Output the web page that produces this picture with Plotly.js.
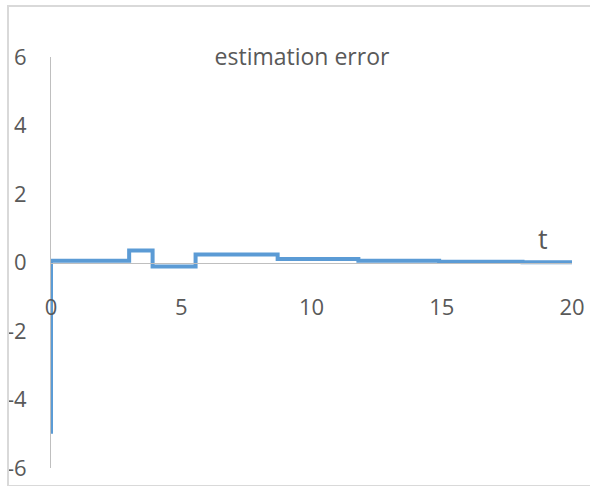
<!DOCTYPE html>
<html>
<head>
<meta charset="utf-8">
<script src="https://cdn.plot.ly/plotly-3.0.1.min.js"></script>
<style>
  html, body { margin: 0; padding: 0; background: #fff; }
  #wrap { position: absolute; left: 0; top: 0; width: 590px; height: 486px; }
  #frame { position: absolute; left: 7px; top: 5px; width: 600px; height: 478px;
           border-top: 2px solid #d9d9d9; border-left: 2px solid #d9d9d9; border-bottom: 2px solid #d9d9d9; box-sizing: content-box; pointer-events: none; }
  #chart { position: absolute; left: 0; top: 0; width: 590px; height: 486px; }
</style>
</head>
<body>
<div id="wrap">
  <div id="chart"></div>
  <div id="frame"></div>
</div>
<script>
// Step times and estimation error levels
const tValues = [0, 0, 3, 3.9, 5.55, 8.7, 11.8, 14.9, 18.1, 20];
const errorValues = [-5, 0.05, 0.35, -0.12, 0.23, 0.1, 0.05, 0.02, 0.01, 0.01];
const xTicks = [0, 5, 10, 15, 20];
const yTicks = [-6, -4, -2, 0, 2, 4, 6];

const FONT = '"Open Sans", sans-serif';
const GREY = '#595959';

const trace = {
  x: tValues,
  y: errorValues,
  type: 'scatter',
  mode: 'lines',
  line: { shape: 'hv', color: '#5b9bd5', width: 4 },
  hoverinfo: 'skip'
};

const layout = {
  width: 590,
  height: 486,
  margin: { l: 51, r: 18, t: 57, b: 18 },
  paper_bgcolor: 'rgba(0,0,0,0)',
  plot_bgcolor: 'rgba(0,0,0,0)',
  showlegend: false,
  title: {
    text: 'estimation error',
    font: { family: FONT, size: 23, color: GREY },
    x: 302 / 590, xanchor: 'center',
    y: 1 - 57 / 486, yanchor: 'middle'
  },
  xaxis: {
    range: [0, 20],
    tickvals: xTicks,
    ticktext: xTicks.map(String),
    showgrid: false,
    zeroline: false,
    showline: true,
    linecolor: '#bfbfbf',
    linewidth: 1,
    ticks: '',
    anchor: 'free',
    position: 0.5,
    ticklabelstandoff: 25,
    tickfont: { family: FONT, size: 22, color: GREY },
    fixedrange: true
  },
  yaxis: {
    range: [-6, 6],
    tickvals: yTicks,
    ticktext: yTicks.map(String),
    showgrid: false,
    zeroline: false,
    showline: true,
    linecolor: '#bfbfbf',
    linewidth: 1,
    ticks: '',
    ticklabelstandoff: 19,
    tickfont: { family: FONT, size: 22, color: GREY },
    fixedrange: true
  },
  annotations: [{
    text: 't',
    x: 18.9, y: 0.7,
    xref: 'x', yref: 'y',
    showarrow: false,
    font: { family: FONT, size: 27, color: GREY },
    xanchor: 'center', yanchor: 'middle'
  }]
};

Plotly.newPlot('chart', [trace], layout, { displayModeBar: false, staticPlot: true });
</script>
</body>
</html>
